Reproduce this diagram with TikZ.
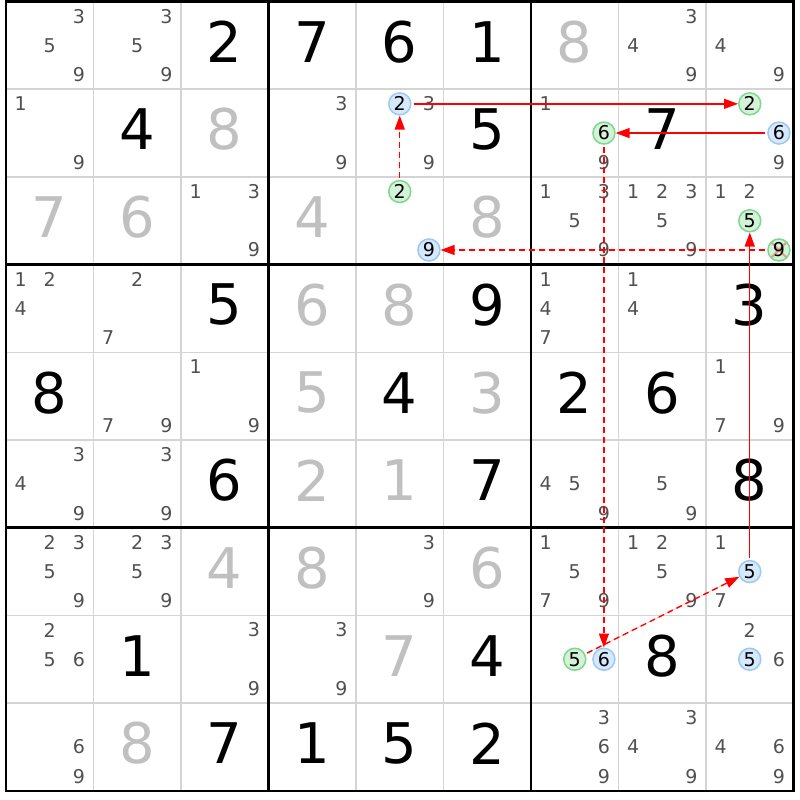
\documentclass[tikz,border=0pt]{standalone}
\usepackage{fontspec}
\setmainfont{DejaVu Sans}
\usetikzlibrary{arrows.meta}
\definecolor{candgray}{HTML}{505050}
\definecolor{solvedgray}{HTML}{C0C0C0}
\definecolor{thingray}{HTML}{D4D4D4}
\definecolor{bluefill}{HTML}{D6E8FC}
\definecolor{blueline}{HTML}{9CC8F4}
\definecolor{greenfill}{HTML}{D4F2D8}
\definecolor{greenline}{HTML}{7CD88C}
\definecolor{linkred}{HTML}{FF0000}
\begin{document}
\begin{tikzpicture}[x=87.5pt,y=-87.7pt,
    thinline/.style={thingray, line width=1.5pt},
    boxline/.style={black, line width=2.5pt},
    given/.style={font=\fontsize{56}{56}\selectfont, text=black, inner sep=0pt, yshift=3.5pt},
    solved/.style={given, text=solvedgray},
    cand/.style={font=\fontsize{19}{19}\selectfont, text=candgray, inner sep=0pt},
    onchain/.style={circle, minimum size=22pt, inner sep=0pt, line width=1.5pt, text=black, font=\fontsize{19}{19}\selectfont},
    bluecand/.style={onchain, draw=blueline, fill=bluefill},
    greencand/.style={onchain, draw=greenline, fill=greenfill},
    greencross/.style={greencand, path picture={\draw[red, opacity=0.35, line width=2pt]
        (path picture bounding box.north west) -- (path picture bounding box.south east)
        (path picture bounding box.north east) -- (path picture bounding box.south west);}},
    stronglink/.style={draw=linkred, fill=linkred, line width=1.4pt, -{Triangle[length=14pt,width=10pt]}, shorten <=2pt},
    weaklink/.style={stronglink, dash pattern=on 6pt off 4pt}]
    \useasboundingbox (0pt,0pt) rectangle (800pt,-800pt);
    \begin{scope}[shift={(6pt,-1.5pt)}]
        % grid
        \foreach \i in {1,2,4,5,7,8} {
            \draw[thinline] (\i,0) -- (\i,9);
            \draw[thinline] (0,\i) -- (9,\i);
        }
        \foreach \i in {3,6} {
            \draw[boxline] (\i,0) -- (\i,9);
            \draw[boxline] (0,\i) -- (9,\i);
        }
        \draw[boxline] (0,0) rectangle (9,9);

        % givens
        \foreach \r/\c/\d in {1/3/2, 1/4/7, 1/5/6, 1/6/1, 2/2/4, 2/6/5, 2/8/7,
            4/3/5, 4/6/9, 4/9/3, 5/1/8, 5/5/4, 5/7/2, 5/8/6, 6/3/6, 6/6/7, 6/9/8,
            8/2/1, 8/6/4, 8/8/8, 9/3/7, 9/4/1, 9/5/5, 9/6/2}
            \draw (\c-0.5,\r-0.5) node[given] (g\r\c) {\d};

        % solved
        \foreach \r/\c/\d in {1/7/8, 2/3/8, 3/1/7, 3/2/6, 3/4/4, 3/6/8, 4/4/6, 4/5/8,
            5/4/5, 5/6/3, 6/4/2, 6/5/1, 7/3/4, 7/4/8, 7/6/6, 8/5/7, 9/2/8}
            \draw (\c-0.5,\r-0.5) node[solved] (s\r\c) {\d};

        % candidates
        \foreach \r/\c/\ds in {1/1/{3,5,9}, 1/2/{3,5,9}, 1/8/{3,4,9}, 1/9/{4,9},
            2/1/{1,9}, 2/4/{3,9}, 2/5/{3,9}, 2/7/{1,9}, 2/9/{9},
            3/3/{1,3,9}, 3/7/{1,3,5,9}, 3/8/{1,2,3,5,9}, 3/9/{1,2},
            4/1/{1,2,4}, 4/2/{2,7}, 4/7/{1,4,7}, 4/8/{1,4},
            5/2/{7,9}, 5/3/{1,9}, 5/9/{1,7,9},
            6/1/{3,4,9}, 6/2/{3,9}, 6/7/{4,5,9}, 6/8/{5,9},
            7/1/{2,3,5,9}, 7/2/{2,3,5,9}, 7/5/{3,9}, 7/7/{1,5,7,9}, 7/8/{1,2,5,9}, 7/9/{1,7},
            8/1/{2,5,6}, 8/3/{3,9}, 8/4/{3,9}, 8/9/{2,6},
            9/1/{6,9}, 9/7/{3,6,9}, 9/8/{3,4,9}, 9/9/{4,6,9}}
            \foreach \d in \ds
                \draw ({\c-1+(mod(\d-1,3)+0.5)/3},{\r-1+(int((\d-1)/3)+0.5)/3}) node[cand] (c\r\c\d) {\d};

        % chain candidates
        \foreach \r/\c/\d/\s in {2/5/2/bluecand, 3/5/2/greencand, 2/9/2/greencand,
            2/9/6/bluecand, 2/7/6/greencand, 8/7/6/bluecand, 8/7/5/greencand,
            7/9/5/bluecand, 3/9/5/greencand, 3/9/9/greencross, 3/5/9/bluecand, 8/9/5/bluecand}
            \draw ({\c-1+(mod(\d-1,3)+0.5)/3},{\r-1+(int((\d-1)/3)+0.5)/3}) node[\s] (k\r\c\d) {\d};

        % links
        \draw[weaklink] (k352) -- (k252);
        \draw[stronglink] (k252) -- (k292);
        \draw[stronglink] (k296) -- (k276);
        \draw[weaklink] (k276) -- (k876);
        \draw[weaklink] (k875) -- (k795);
        \draw[stronglink] (k795) -- (k395);
        \draw[weaklink] (k399) -- (k359);
    \end{scope}
\end{tikzpicture}
\end{document}
